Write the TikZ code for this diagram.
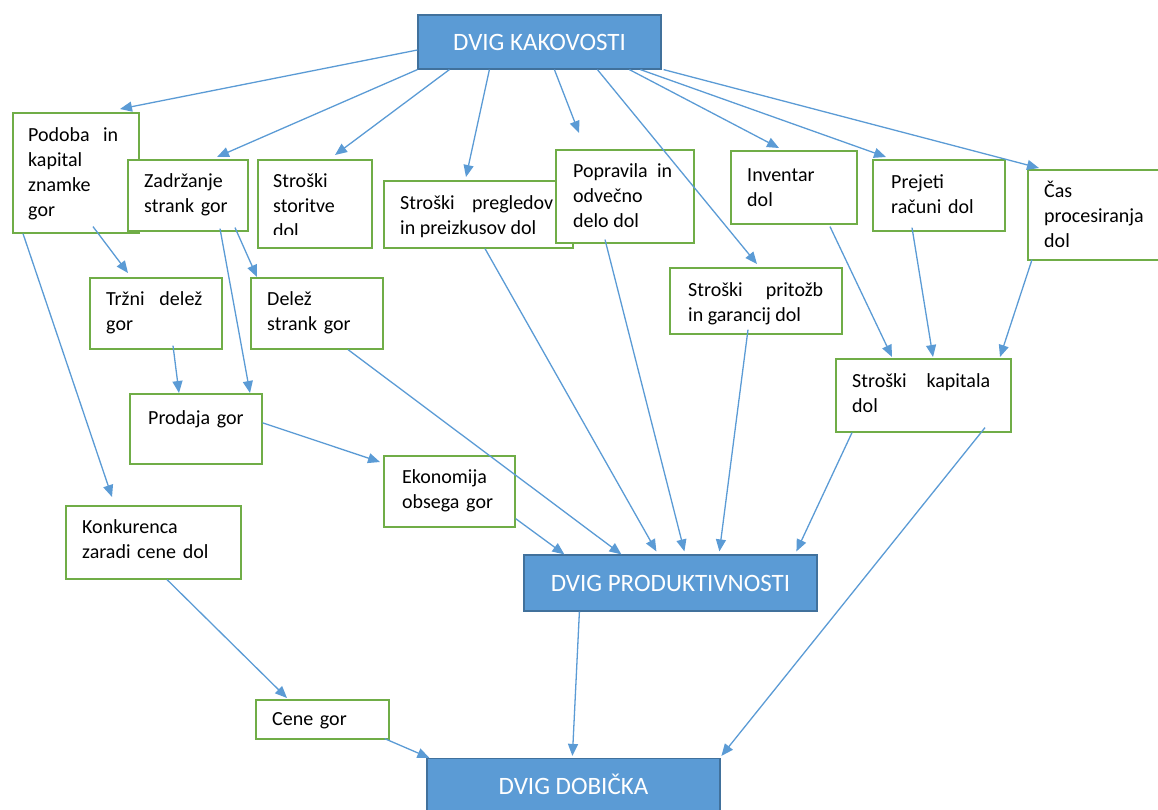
\documentclass[tikz,border=0pt]{standalone}
\usepackage{fontspec}
\setmainfont{Carlito}
\usetikzlibrary{arrows.meta}
\definecolor{modra}{HTML}{5B9BD5}
\definecolor{modrarob}{HTML}{41719C}
\definecolor{zelena}{HTML}{70AD47}

\begin{document}
\begin{tikzpicture}[x=1pt, y=-1pt, >={Triangle[length=12pt, width=10pt]},
  okvir/.style={draw=zelena, line width=1.6pt, fill=white, anchor=north west, inner sep=0pt},
  glavni/.style={draw=modrarob, line width=1.2pt, fill=modra, text=white, inner sep=0pt,
                 font=\fontsize{25}{30}\selectfont},
  besedilo/.style={anchor=base west, inner sep=0pt, text width=170, align=left,
                   font=\fontsize{20}{25}\selectfont},
  puscica/.style={->, draw=modra, line width=1.3pt}]
\useasboundingbox (0,0) rectangle (1158,809);
\clip (0,0) rectangle (1158,809);

% Main blocks
\node[glavni, minimum width=243, minimum height=54] (kakovost) at (539.5,42) {DVIG KAKOVOSTI};
\node[glavni, minimum width=293, minimum height=56] (produktivnost) at (670.5,583) {DVIG PRODUKTIVNOSTI};
\node[glavni, minimum width=293, minimum height=52] (dobicek) at (573.5,784.5) {DVIG DOBIČKA};

% Left group
\node[okvir, minimum width=126, minimum height=120] (podoba) at (12,112) {};
\node[besedilo, text width=90, align=justify] (podoba-t) at (28,141) {Podoba in\linebreak kapital\\znamke\\gor};
\node[okvir, minimum width=120, minimum height=71] (zadrzanje) at (127,159) {};
\node[besedilo] (zadrzanje-t) at (144,187) {Zadržanje\\strank gor};
\node[okvir, minimum width=132, minimum height=71] (trzni) at (89,277) {};
\node[besedilo, text width=96, align=justify] (trzni-t) at (106,305) {Tržni delež\linebreak gor};
\node[okvir, minimum width=132, minimum height=71] (delez) at (250,277) {};
\node[besedilo] (delez-t) at (267,305) {Delež\\strank gor};
\node[okvir, minimum width=132, minimum height=70] (prodaja) at (129,393) {};
\node[besedilo] (prodaja-t) at (148,424) {Prodaja gor};
\node[okvir, minimum width=131, minimum height=71] (ekonomija) at (383,455) {};
\node[besedilo] (ekonomija-t) at (402,483) {Ekonomija\\obsega gor};
\node[okvir, minimum width=175, minimum height=73] (konkurenca) at (65,505) {};
\node[besedilo] (konkurenca-t) at (82,533) {Konkurenca\\zaradi cene dol};
\node[okvir, minimum width=133, minimum height=39] (cene) at (255,699) {};
\node[besedilo] (cene-t) at (272,725) {Cene gor};

% Cost group
\node[okvir, minimum width=114, minimum height=88] (storitve) at (257,159) {};
\begin{scope}
  \clip (257,159) rectangle (371,234);
  \node[besedilo] (storitve-t) at (273,187) {Stroški\\storitve\\dol};
\end{scope}
\node[okvir, minimum width=189, minimum height=67] (pregledi) at (383,180) {};
\begin{scope}
  \clip (383,180) rectangle (572,237);
  \node[besedilo, text width=153, align=justify] (pregledi-t) at (400,209) {Stroški pregledov\linebreak in preizkusov dol};
\end{scope}
\node[okvir, minimum width=138, minimum height=93] (popravila) at (555,149) {};
\node[besedilo, text width=99, align=justify] (popravila-t) at (573,177) {Popravila in\linebreak odvečno\\delo dol};
\node[okvir, minimum width=126, minimum height=73] (inventar) at (730,150) {};
\node[besedilo] (inventar-t) at (747,181) {Inventar\\dol};
\node[okvir, minimum width=132, minimum height=71] (racuni) at (872,159) {};
\node[besedilo] (racuni-t) at (891,188) {Prejeti\\računi dol};
\node[okvir, minimum width=150, minimum height=90] (cas) at (1027,169) {};
\node[besedilo] (cas-t) at (1044,197) {Čas\\procesiranja\\dol};
\node[okvir, minimum width=172, minimum height=66] (pritozbe) at (669,267) {};
\begin{scope}
  \clip (669,267) rectangle (841,324);
  \node[besedilo, text width=135, align=justify] (pritozbe-t) at (688,296) {Stroški pritožb\linebreak in garancij dol};
\end{scope}
\node[okvir, minimum width=175, minimum height=73] (kapital) at (835,358) {};
\node[besedilo, text width=138, align=justify] (kapital-t) at (852,387) {Stroški kapitala\linebreak dol};

% Arrows from quality
\draw[puscica] ([yshift=-8]kakovost.west) -- ([xshift=108,yshift=3]podoba.north west);
\draw[puscica] (kakovost.south west) -- ([xshift=90,yshift=2]zadrzanje.north west);
\draw[puscica] ([xshift=32]kakovost.south west) -- ([xshift=78,yshift=4]storitve.north west);
\draw[puscica] ([xshift=72]kakovost.south west) -- ([xshift=83,yshift=3]pregledi.north west);
\draw[puscica] ([xshift=137]kakovost.south west) -- ([xshift=24,yshift=16]popravila.north west);
\draw[puscica] ([xshift=180]kakovost.south west) -- ([xshift=88,yshift=3]pritozbe.north west);
\draw[puscica] ([xshift=212]kakovost.south west) -- ([xshift=49,yshift=2]inventar.north west);
\draw[puscica] ([xshift=223]kakovost.south west) -- ([xshift=14,yshift=2]racuni.north west);
\draw[puscica] ([xshift=2]kakovost.south east) -- ([xshift=12,yshift=1]cas.north west);

% Arrows on the left
\draw[puscica] ([xshift=81,yshift=7]podoba.south west) -- ([xshift=39,yshift=4]trzni.north west);
\draw[puscica] ([xshift=11]podoba.south west) -- ([xshift=47,yshift=8]konkurenca.north west);
\draw[puscica] ([xshift=93,yshift=3]zadrzanje.south west) -- ([xshift=121]prodaja.north west);
\draw[puscica] ([xshift=108,yshift=4]zadrzanje.south west) -- ([xshift=7]delez.north west);
\draw[puscica] ([xshift=84,yshift=4]trzni.south west) -- ([xshift=50]prodaja.north west);
\draw[puscica] ([yshift=6]prodaja.east) -- ([xshift=-3,yshift=-7]ekonomija.north west);
\draw[puscica] ([xshift=102]konkurenca.south west) -- ([xshift=32,yshift=1]cene.north west);

% Arrows into productivity
\draw[puscica] ([xshift=98]delez.south west) -- ([xshift=98]produktivnost.north west);
\draw[puscica] ([yshift=9]ekonomija.south east) -- ([xshift=41]produktivnost.north west);
\draw[puscica] ([xshift=102]pregledi.south west) -- ([xshift=133,yshift=3]produktivnost.north west);
\draw[puscica] ([xshift=50,yshift=4]popravila.south west) -- ([xshift=161,yshift=3]produktivnost.north west);
\draw[puscica] ([xshift=79,yshift=5]pritozbe.south west) -- ([xshift=196,yshift=3]produktivnost.north west);
\draw[puscica] ([xshift=17]kapital.south west) -- ([xshift=273,yshift=3]produktivnost.north west);

% Arrows into capital costs
\draw[puscica] ([xshift=100,yshift=-2]inventar.south west) -- ([xshift=57,yshift=1]kapital.north west);
\draw[puscica] ([xshift=40,yshift=4]racuni.south west) -- ([xshift=98,yshift=1]kapital.north west);
\draw[puscica] ([xshift=5,yshift=1]cas.south west) -- ([xshift=165,yshift=1]kapital.north west);

% Arrows into profit
\draw[puscica] ([xshift=150,yshift=5]kapital.south west) -- ([xshift=295,yshift=2]dobicek.north west);
\draw[puscica] ([xshift=56]produktivnost.south west) -- ([xshift=146,yshift=2]dobicek.north west);
\draw[puscica] ([xshift=-5,yshift=1]cene.south east) -- ([xshift=3]dobicek.north west);
\end{tikzpicture}
\end{document}
